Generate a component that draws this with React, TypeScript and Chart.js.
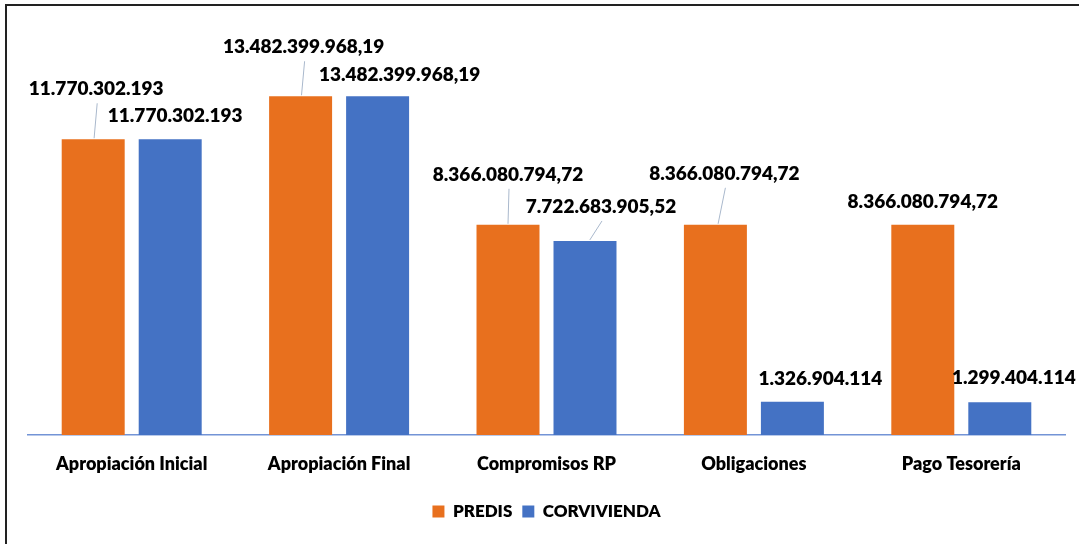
import React, { useEffect, useRef } from "react";
import { Chart, registerables } from "chart.js";

Chart.register(...registerables);

const categories = [
  "Apropiación Inicial",
  "Apropiación Final",
  "Compromisos RP",
  "Obligaciones",
  "Pago Tesorería",
];
const predisValues = [11770302193, 13482399968.19, 8366080794.72, 8366080794.72, 8366080794.72];
const corviviendaValues = [11770302193, 13482399968.19, 7722683905.52, 1326904114, 1299404114];
const predisLabels = ["11.770.302.193", "13.482.399.968,19", "8.366.080.794,72", "8.366.080.794,72", "8.366.080.794,72"];
const corviviendaLabels = ["11.770.302.193", "13.482.399.968,19", "7.722.683.905,52", "1.326.904.114", "1.299.404.114"];

// label placement relative to each bar's top-centre (px): [dx, dy]
const predisLabelOffsets = [[3, -50], [3, -49], [0, -50], [9, -51], [0, -23]];
const corviviendaLabelOffsets = [[5, -23], [22, -21], [16, -34], [28, -23], [14, -24]];

const ORANGE = "#E8701E";
const BLUE = "#4472C4";
const FONT = "Lato, 'Open Sans', sans-serif";

const labelPlugin = {
  id: "barLabels",
  afterDatasetsDraw(chart: any) {
    const ctx = chart.ctx;
    const texts = [predisLabels, corviviendaLabels];
    const offs = [predisLabelOffsets, corviviendaLabelOffsets];
    ctx.save();
    ctx.font = `800 19px ${FONT}`;
    ctx.textAlign = "center";
    ctx.textBaseline = "middle";
    chart.data.datasets.forEach((_ds: any, di: number) => {
      const meta = chart.getDatasetMeta(di);
      meta.data.forEach((bar: any, i: number) => {
        const [dx, dy] = offs[di][i];
        const lx = bar.x + dx;
        const ly = bar.y + dy;
        if (dy < -30) {
          ctx.strokeStyle = "#A9B8CC";
          ctx.lineWidth = 1;
          ctx.beginPath();
          ctx.moveTo(lx + 1, ly + 14);
          ctx.lineTo(bar.x + dx * 0.3, bar.y - 1);
          ctx.stroke();
        }
        ctx.fillStyle = "#000";
        ctx.fillText(texts[di][i], lx, ly);
      });
    });
    ctx.restore();
  },
};

export default function App() {
  const ref = useRef<HTMLCanvasElement>(null);
  useEffect(() => {
    if (!ref.current) return;
    const chart = new Chart(ref.current, {
      type: "bar",
      data: {
        labels: categories,
        datasets: [
          {
            label: "PREDIS",
            data: predisValues,
            backgroundColor: ORANGE,
            categoryPercentage: 0.7425,
            barPercentage: 0.818,
          },
          {
            label: "CORVIVIENDA",
            data: corviviendaValues,
            backgroundColor: BLUE,
            categoryPercentage: 0.7425,
            barPercentage: 0.818,
          },
        ],
      },
      options: {
        responsive: false,
        animation: false,
        layout: { padding: { top: 33, left: 28, right: 14, bottom: 14 } },
        scales: {
          y: { display: false, min: 0, max: 16000000000 },
          x: {
            grid: { display: false, drawTicks: false },
            border: { display: true, color: "#7394D6", width: 1.5 },
            ticks: {
              color: "#000",
              font: { family: FONT, size: 18, weight: "800" },
              padding: 18,
              maxRotation: 0,
            },
            afterFit: (scale: any) => {
              scale.height = 58;
            },
          },
        },
        plugins: {
          legend: {
            position: "bottom",
            labels: {
              color: "#000",
              boxWidth: 12,
              boxHeight: 12,
              padding: 10,
              font: { family: FONT, size: 17, weight: "800" },
            },
          },
          tooltip: { enabled: false },
        },
      },
      plugins: [labelPlugin],
    });
    return () => chart.destroy();
  }, []);

  return (
    <div style={{ position: "fixed", left: 0, top: 0, width: 1079, height: 544, background: "#fff", overflow: "hidden" }}>
      <div
        style={{
          position: "absolute",
          left: 5,
          top: 4,
          width: 1200,
          height: 700,
          borderLeft: "2px solid #222",
          borderTop: "2px solid #222",
        }}
      />
      <canvas ref={ref} width={1079} height={544} style={{ position: "absolute", left: 0, top: 0 }} />
    </div>
  );
}
